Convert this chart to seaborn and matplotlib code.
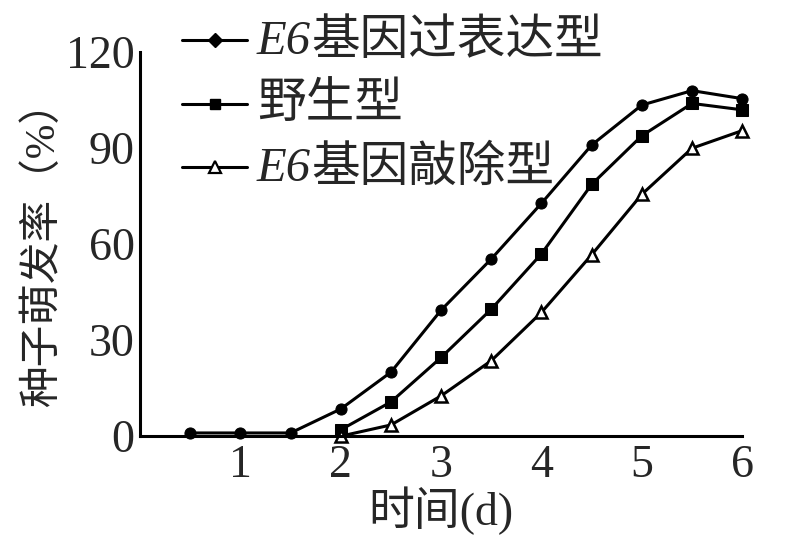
import pandas as pd
import matplotlib.pyplot as plt
import seaborn as sns
from matplotlib.lines import Line2D
from matplotlib.ticker import FixedLocator
from matplotlib.offsetbox import (AnchoredOffsetbox, DrawingArea, HPacker,
                                  TextArea, VPacker)

# 数据
days_over = [0.5, 1, 1.5, 2, 2.5, 3, 3.5, 4, 4.5, 5, 5.5, 6]
rate_over = [1, 1, 1, 8.5, 20, 39.4, 55.4, 72.8, 91, 103.5, 108, 105.5]

days_wild = [2, 2.5, 3, 3.5, 4, 4.5, 5, 5.5, 6]
rate_wild = [2, 10.7, 24.6, 39.7, 57, 78.7, 93.9, 104, 102]

days_ko = [2, 2.5, 3, 3.5, 4, 4.5, 5, 5.5, 6]
rate_ko = [0, 3.5, 12.6, 23.6, 38.7, 56.7, 75.6, 90, 95.5]

groups = ['E6基因过表达型', '野生型', 'E6基因敲除型']
# 图例：斜体前缀 + 中文部分
legend_prefix = ['E6', '', 'E6']
legend_rest = ['基因过表达型', '野生型', '基因敲除型']
x_ticks = [1, 2, 3, 4, 5, 6]
y_ticks = [0, 30, 60, 90, 120]

df = pd.concat([
    pd.DataFrame({'day': days_over, 'rate': rate_over, 'group': groups[0]}),
    pd.DataFrame({'day': days_wild, 'rate': rate_wild, 'group': groups[1]}),
    pd.DataFrame({'day': days_ko, 'rate': rate_ko, 'group': groups[2]}),
])

sns.set_style('white')
plt.rcParams['font.family'] = ['Liberation Serif', 'Noto Sans CJK SC']

fig = plt.figure(figsize=(8.05, 5.5), dpi=100)
ax = fig.add_axes([0.174, 0.207, 0.748, 0.698])

plot_markers = {groups[0]: 'o', groups[1]: 's', groups[2]: '^'}
sns.lineplot(data=df, x='day', y='rate', hue='group', style='group',
             markers=plot_markers, dashes=False,
             palette=['black'] * 3, linewidth=2.2, markersize=8,
             markeredgecolor='black', legend=False, ax=ax, clip_on=False)

# 敲除型三角形为空心
for line in ax.lines:
    if line.get_marker() == '^':
        line.set_markerfacecolor('white')
        line.set_markeredgewidth(1.8)

ax.set_xlim(0, 6)
ax.set_ylim(0, 120)
ax.set_xticks(x_ticks)
ax.set_yticks(y_ticks)
ax.tick_params(axis='x', which='major', length=0, labelsize=33, pad=6)
ax.xaxis.set_minor_locator(FixedLocator([3, 3.5, 4, 4.5, 5, 5.5, 6]))
ax.tick_params(axis='x', which='minor', direction='in', length=9, width=2)
ax.tick_params(axis='y', direction='in', length=10, width=2, labelsize=33, pad=4)

for side in ['top', 'right']:
    ax.spines[side].set_visible(False)
for side in ['left', 'bottom']:
    ax.spines[side].set_linewidth(2.2)
    ax.spines[side].set_color('black')

ax.set_xlabel('时间(d)', fontsize=33, labelpad=0)
ax.set_ylabel('种子萌发率（%）', fontsize=30, labelpad=2)

# 图例（手动拼装，E6 为斜体）
handle_styles = [
    dict(marker='D', markersize=7, markerfacecolor='black'),
    dict(marker='s', markersize=7, markerfacecolor='black'),
    dict(marker='^', markersize=8, markerfacecolor='white', markeredgewidth=1.6),
]
rows = []
for prefix, rest, style in zip(legend_prefix, legend_rest, handle_styles):
    da = DrawingArea(47, 30, 0, 0)
    da.add_artist(Line2D([0, 23.5, 47], [15, 15, 15], color='black', lw=2.2,
                         markevery=[1], markeredgecolor='black', **style))
    words = []
    if prefix:
        words.append(TextArea(prefix, textprops=dict(
            fontsize=35, fontstyle='italic', family='Liberation Serif')))
    words.append(TextArea(rest, textprops=dict(fontsize=35, family='Noto Sans CJK SC')))
    label = HPacker(children=words, align='baseline', pad=0, sep=0)
    rows.append(HPacker(children=[da, label], align='center', pad=0, sep=7))
box = VPacker(children=rows, align='left', pad=0, sep=10)
anchored = AnchoredOffsetbox(loc='upper left', child=box, pad=0, borderpad=0,
                             frameon=False, bbox_to_anchor=(182 / 805, 0.972),
                             bbox_transform=fig.transFigure)
ax.add_artist(anchored)

plt.savefig('out.png', dpi=100)
plt.close()
